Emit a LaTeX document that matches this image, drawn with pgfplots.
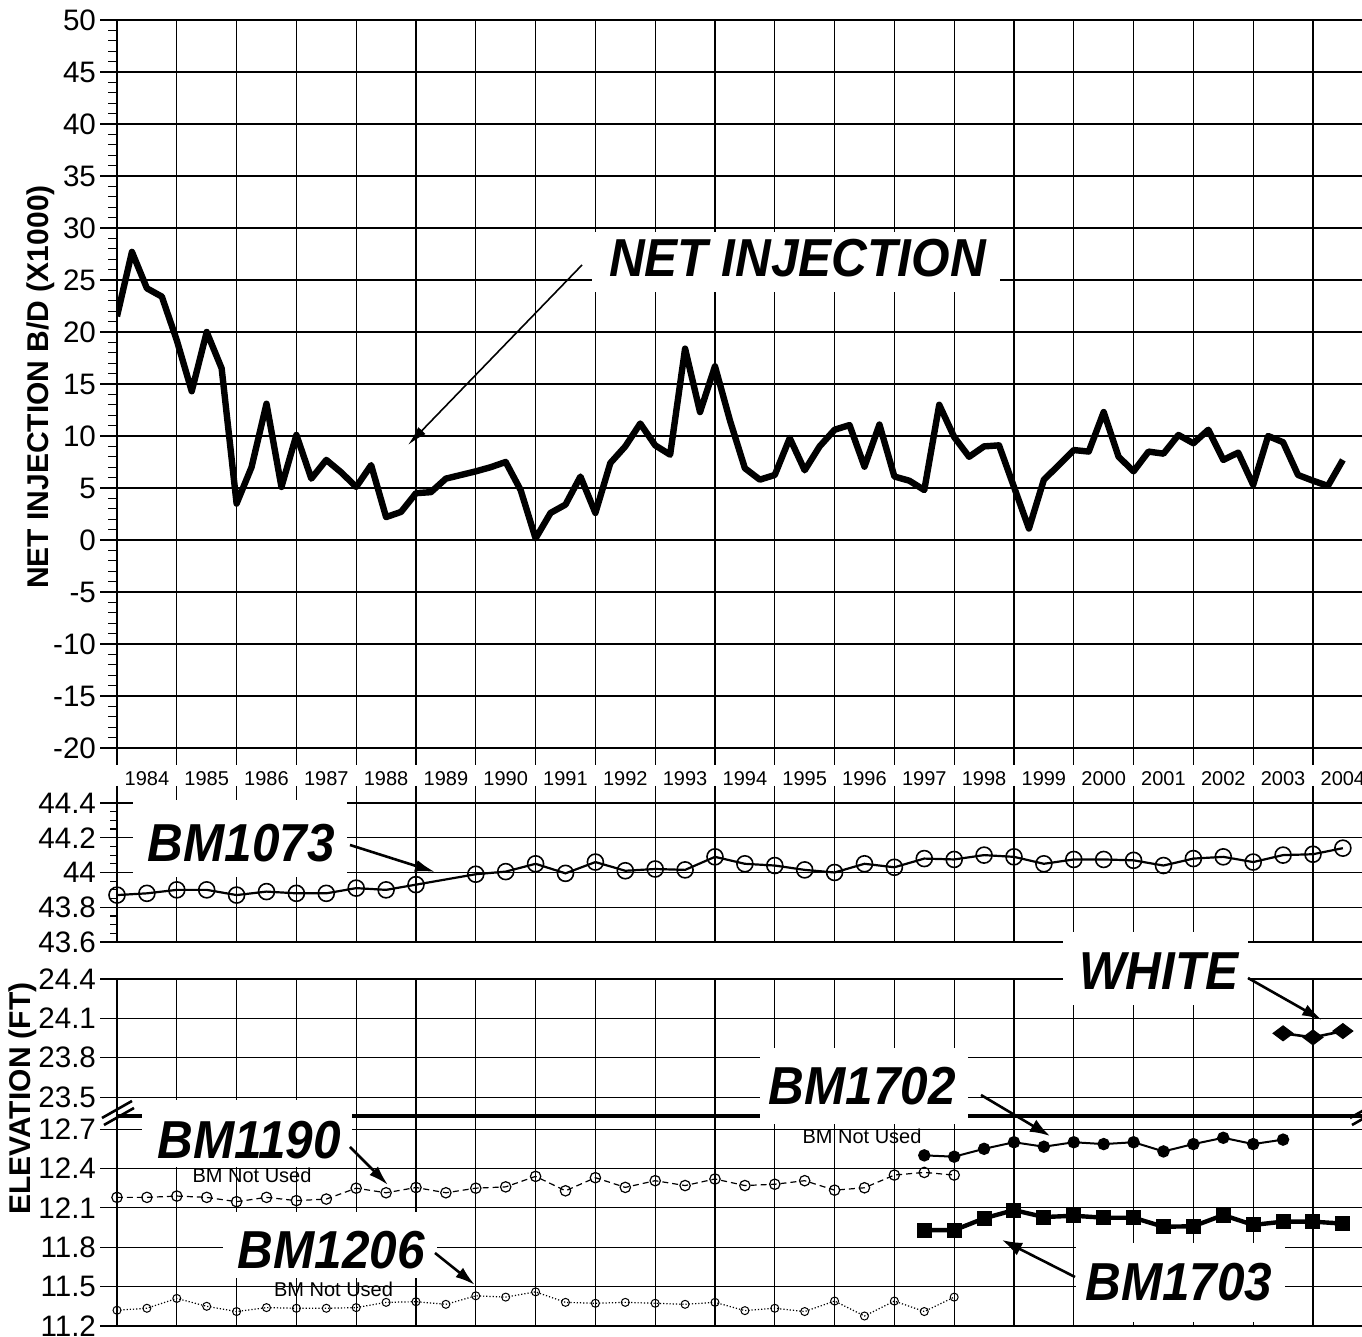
\documentclass[border=0pt]{standalone}
\usepackage{fontspec}
\setmainfont{Liberation Sans}
\usepackage{graphicx}
\usepackage{pgfplots}
\pgfplotsset{compat=1.18}
\usetikzlibrary{arrows.meta}

\newcommand{\biglab}{\fontsize{24.75}{26}\selectfont\bfseries\itshape}
\newcommand{\BL}[1]{\scalebox{1}[1.08]{\biglab #1}}

\pgfplotsset{
  panel/.style={
    scale only axis,
    width=624pt,
    xmin=1984, xmax=2004.87,
    axis line style={line width=1.3pt},
    grid=major,
    major grid style={line width=0.6pt, draw=black},
    xtick={1984,1985,...,2004},
    xticklabels={},
    minor x tick num=3,
    tick align=outside,
    major tick length=8.5pt,
    minor tick length=4.5pt,
    every tick/.style={line width=0.6pt, black},
    ytick pos=left,
    yticklabel style={font=\fontsize{14.8}{15}\selectfont, xshift=1.5pt},
    /pgf/number format/assume math mode=true,
    clip mode=individual,
  },
}

\begin{document}
\begin{tikzpicture}
\path[use as bounding box] (0pt,0pt) rectangle (681pt,668.5pt);

% ---------------- top panel: net injection ----------------
\begin{axis}[panel, at={(58.5pt,294.5pt)}, anchor=south west, height=364pt,
  ymin=-20, ymax=50, ytick={-20,-15,...,50}, minor y tick num=4,
  xtick pos=left,
  extra x ticks={1984.5,1985.5,1986.5,1987.5,1988.5,1989.5,1990.5,1991.5,1992.5,1993.5,1994.5,1995.5,1996.5,1997.5,1998.5,1999.5,2000.5,2001.5,2002.5,2003.5,2004.5},
  extra x tick labels={1984,1985,1986,1987,1988,1989,1990,1991,1992,1993,1994,1995,1996,1997,1998,1999,2000,2001,2002,2003,2004},
  extra x tick style={grid=none, major tick length=0pt,
     xticklabel style={font=\fontsize{10}{11}\selectfont, yshift=-8pt}},
]
\addplot[black, line width=3.2pt, line join=round, no marks] coordinates {
(1984.00,21.5) (1984.25,27.7) (1984.50,24.2) (1984.75,23.4)
(1985.00,19.2) (1985.25,14.3) (1985.50,20.0) (1985.75,16.5)
(1986.00,3.5) (1986.25,7.0) (1986.50,13.1) (1986.75,5.1)
(1987.00,10.1) (1987.25,5.9) (1987.50,7.7) (1987.75,6.5)
(1988.00,5.1) (1988.25,7.2) (1988.50,2.2) (1988.75,2.7)
(1989.00,4.5) (1989.25,4.6) (1989.50,5.9) (1989.75,6.25)
(1990.00,6.6) (1990.25,7.0) (1990.50,7.5) (1990.75,4.8)
(1991.00,0.15) (1991.25,2.6) (1991.50,3.4) (1991.75,6.1)
(1992.00,2.6) (1992.25,7.4) (1992.50,9.0) (1992.75,11.2)
(1993.00,9.1) (1993.25,8.2) (1993.50,18.4) (1993.75,12.3)
(1994.00,16.7) (1994.25,11.5) (1994.50,6.9) (1994.75,5.8)
(1995.00,6.25) (1995.25,9.8) (1995.50,6.7) (1995.75,9.0)
(1996.00,10.6) (1996.25,11.05) (1996.50,7.05) (1996.75,11.1)
(1997.00,6.1) (1997.25,5.7) (1997.50,4.8) (1997.75,13.0)
(1998.00,9.9) (1998.25,8.0) (1998.50,9.0) (1998.75,9.1)
(1999.00,5.1) (1999.25,1.1) (1999.50,5.8) (1999.75,7.2)
(2000.00,8.65) (2000.25,8.5) (2000.50,12.3) (2000.75,8.0)
(2001.00,6.6) (2001.25,8.5) (2001.50,8.3) (2001.75,10.1)
(2002.00,9.3) (2002.25,10.6) (2002.50,7.7) (2002.75,8.4)
(2003.00,5.3) (2003.25,10.0) (2003.50,9.4) (2003.75,6.25)
(2004.00,5.7) (2004.25,5.2) (2004.50,7.7)
};
\end{axis}

% ---------------- middle panel: BM1073 ----------------
\begin{axis}[panel, at={(58.5pt,197.5pt)}, anchor=south west, height=69.5pt,
  ymin=43.6, ymax=44.4, ytick={43.6,43.8,44,44.2,44.4}, minor y tick num=3,
  xtick pos=right, minor tick length=3.5pt,
]
\addplot[black, line width=1.1pt, mark=o, mark size=4pt, mark options={line width=0.8pt, solid}] coordinates {
(1984.0,43.87) (1984.5,43.88) (1985.0,43.90) (1985.5,43.90) (1986.0,43.87)
(1986.5,43.89) (1987.0,43.88) (1987.5,43.88) (1988.0,43.91) (1988.5,43.90)
(1989.0,43.93) (1990.0,43.99) (1990.5,44.005) (1991.0,44.05) (1991.5,43.995)
(1992.0,44.06) (1992.5,44.01) (1993.0,44.02) (1993.5,44.015) (1994.0,44.09)
(1994.5,44.05) (1995.0,44.04) (1995.5,44.015) (1996.0,44.0) (1996.5,44.05)
(1997.0,44.03) (1997.5,44.08) (1998.0,44.075) (1998.5,44.10) (1999.0,44.09)
(1999.5,44.05) (2000.0,44.075) (2000.5,44.075) (2001.0,44.07) (2001.5,44.04)
(2002.0,44.08) (2002.5,44.09) (2003.0,44.06) (2003.5,44.10) (2004.0,44.105)
(2004.5,44.14)
};
\end{axis}

% ---------------- bottom panel: broken elevation axis ----------------
\begin{axis}[panel, at={(58.5pt,5.5pt)}, anchor=south west, height=173.5pt,
  ymin=11.2, ymax=13.844,
  ytick={11.2,11.5,11.8,12.1,12.4,12.7,12.944,13.244,13.544,13.844},
  yticklabels={11.2,11.5,11.8,12.1,12.4,12.7,23.5,23.8,24.1,24.4},
  minor y tick num=5,
  xtick pos=left, xmajorticks=false, xminorticks=false,
]
\draw[line width=2pt] (axis cs:1984,12.80) -- (axis cs:2004.87,12.80);
% BM1190
\addplot[black, line width=0.6pt, densely dashed, mark=o, mark size=2.6pt, mark options={solid, line width=0.6pt}] coordinates {
(1984.0,12.18) (1984.5,12.18) (1985.0,12.19) (1985.5,12.18) (1986.0,12.147)
(1986.5,12.18) (1987.0,12.155) (1987.5,12.167) (1988.0,12.25) (1988.5,12.215)
(1989.0,12.255) (1989.5,12.215) (1990.0,12.25) (1990.5,12.26) (1991.0,12.34)
(1991.5,12.23) (1992.0,12.33) (1992.5,12.256) (1993.0,12.307) (1993.5,12.27)
(1994.0,12.32) (1994.5,12.27) (1995.0,12.28) (1995.5,12.307) (1996.0,12.235)
(1996.5,12.253) (1997.0,12.35) (1997.5,12.37) (1998.0,12.35)
};
% BM1206
\addplot[black, line width=0.6pt, densely dotted, mark=o, mark size=2pt, mark options={solid, line width=0.5pt}] coordinates {
(1984.0,11.32) (1984.5,11.335) (1985.0,11.41) (1985.5,11.35) (1986.0,11.31)
(1986.5,11.34) (1987.0,11.335) (1987.5,11.335) (1988.0,11.34) (1988.5,11.38)
(1989.0,11.385) (1989.5,11.365) (1990.0,11.43) (1990.5,11.42) (1991.0,11.46)
(1991.5,11.38) (1992.0,11.373) (1992.5,11.38) (1993.0,11.373) (1993.5,11.365)
(1994.0,11.38) (1994.5,11.317) (1995.0,11.335) (1995.5,11.31) (1996.0,11.39)
(1996.5,11.276) (1997.0,11.39) (1997.5,11.31) (1998.0,11.42)
};
% BM1702
\addplot[black, line width=1pt, mark=*, mark size=2.6pt] coordinates {
(1997.5,12.50) (1998.0,12.49) (1998.5,12.55) (1999.0,12.60) (1999.5,12.566)
(2000.0,12.60) (2000.5,12.586) (2001.0,12.60) (2001.5,12.53) (2002.0,12.586)
(2002.5,12.634) (2003.0,12.586) (2003.5,12.62)
};
% BM1703
\addplot[black, line width=2.2pt, mark=square*, mark size=3.5pt, mark options={line width=0.5pt}] coordinates {
(1997.5,11.93) (1998.0,11.93) (1998.5,12.02) (1999.0,12.083) (1999.5,12.03)
(2000.0,12.04) (2000.5,12.025) (2001.0,12.025) (2001.5,11.956) (2002.0,11.96)
(2002.5,12.045) (2003.0,11.97) (2003.5,11.995) (2004.0,11.995) (2004.5,11.98)
};
% WHITE (real elevation, shifted onto the broken axis)
\addplot[black, line width=1.3pt, mark=diamond*, mark size=5pt, mark options={rotate=90, line width=0.5pt}]
  table[row sep=\\, x=x, y expr=\thisrow{y}-10.556] {x y\\ 2003.5 23.986\\ 2004.0 23.955\\ 2004.5 24.003\\};
\end{axis}

% ---------------- annotations (pixel coordinates) ----------------
\begin{scope}[x=0.5pt, y=-0.5pt, shift={(0pt,668.5pt)}]
  % axis titles
  \node[rotate=90, font=\fontsize{15}{16}\selectfont\bfseries] at (40.5,387) {NET INJECTION B/D (X1000)};
  \node[rotate=90, font=\fontsize{15}{16}\selectfont\bfseries] at (22.5,1098.5) {ELEVATION (FT)};

  % NET INJECTION
  \fill[white] (592,232) rectangle (1000,292);
  \node[inner sep=0pt] at (797.5,258) {\BL{NET INJECTION}};
  \draw[line width=0.8pt, -{Latex[length=10pt,width=5pt]}] (582,265) -- (408,445);

  % BM1073
  \fill[white] (133,800) rectangle (347,877);
  \node[inner sep=0pt] at (241.5,843.5) {\BL{BM1073}};
  \draw[line width=1.3pt, -{Latex[length=10pt,width=6pt]}] (350,845) -- (435,872);

  % WHITE
  \fill[white] (1063,932) rectangle (1248,1005);
  \node[inner sep=0pt] at (1159,971.5) {\BL{WHITE}};
  \draw[line width=1.3pt, -{Latex[length=10pt,width=6pt]}] (1248,978) -- (1322,1020);

  % BM1702
  \fill[white] (760,1048) rectangle (968,1124);
  \node[inner sep=0pt] at (862.5,1086.5) {\BL{BM1702}};
  \node[inner sep=0pt, font=\fontsize{10}{11}\selectfont] at (862,1136) {BM Not Used};
  \draw[line width=1.3pt, -{Latex[length=10pt,width=7pt]}] (981,1095) -- (1050,1136);

  % BM1190
  \fill[white] (142,1100) rectangle (352,1167);
  \node[inner sep=0pt] at (249,1140) {\BL{BM1190}};
  \node[inner sep=0pt, font=\fontsize{10}{11}\selectfont] at (252,1175) {BM Not Used};
  \draw[line width=1.3pt, -{Latex[length=10pt,width=6pt]}] (350,1147) -- (388,1185);

  % BM1206
  \fill[white] (223,1212) rectangle (437,1278);
  \node[inner sep=0pt] at (331.5,1250.5) {\BL{BM1206}};
  \node[inner sep=0pt, font=\fontsize{10}{11}\selectfont] at (333.5,1289.5) {BM Not Used};
  \draw[line width=1.3pt, -{Latex[length=10pt,width=6pt]}] (435,1253) -- (475,1285);

  % BM1703
  \fill[white] (1076,1243) rectangle (1285,1322);
  \node[inner sep=0pt] at (1179,1282.5) {\BL{BM1703}};
  \draw[line width=1.3pt, -{Latex[length=10pt,width=7pt]}] (1075,1277) -- (1002,1240);

  % axis break marks
  \draw[line width=1.3pt] (102,1118) -- (132,1101);
  \draw[line width=1.3pt] (104,1125) -- (134,1108);
  \draw[line width=1.3pt] (1350,1118) -- (1380,1101);
  \draw[line width=1.3pt] (1352,1125) -- (1382,1108);
\end{scope}
\end{tikzpicture}
\end{document}
